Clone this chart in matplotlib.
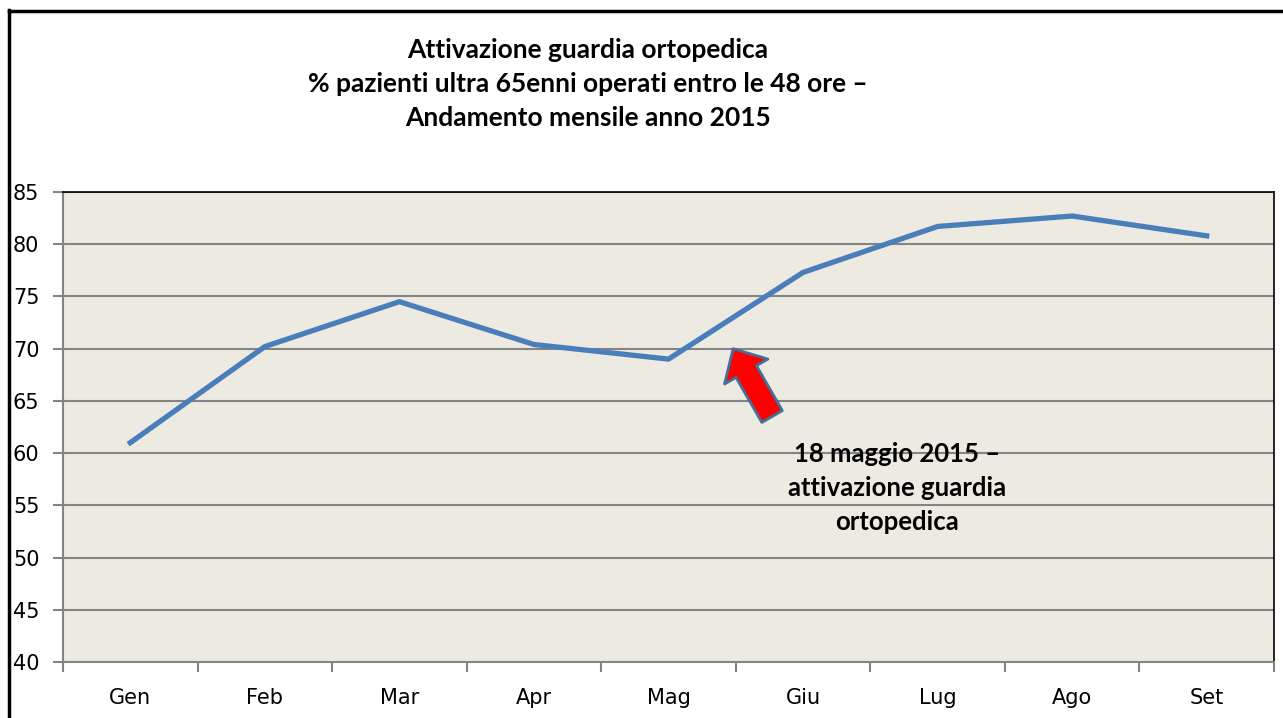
import matplotlib.pyplot as plt
from matplotlib.patches import FancyArrowPatch
from matplotlib.lines import Line2D
import numpy as np

mesi = ['Gen', 'Feb', 'Mar', 'Apr', 'Mag', 'Giu', 'Lug', 'Ago', 'Set']
percentuali = [61.0, 70.2, 74.5, 70.4, 69.0, 77.3, 81.7, 82.7, 80.8]
yticks = [40, 45, 50, 55, 60, 65, 70, 75, 80, 85]

titolo = ('Attivazione guardia ortopedica\n'
          '% pazienti ultra 65enni operati entro le 48 ore \u2013\n'
          'Andamento mensile anno 2015')
nota = '18 maggio 2015 \u2013\nattivazione guardia\nortopedica'

fig = plt.figure(figsize=(12.83, 7.18), dpi=100)
ax = fig.add_axes([63/1283, 1-662/718, (1274-63)/1283, (662-192)/718])

x = np.arange(len(mesi))
ax.set_facecolor('#EDEBE1')
ax.set_xlim(-0.5, len(mesi)-0.5)
ax.set_ylim(40, 85)
ax.set_yticks(yticks)
ax.yaxis.grid(True, color='#848484', lw=1.5)
ax.set_axisbelow(True)

ax.plot(x, percentuali, color='#4A7EBB', lw=3.8, solid_joinstyle='round', zorder=3)

# category ticks between months, labels centred
ax.set_xticks(x)
ax.set_xticklabels(mesi)
ax.set_xticks(np.arange(-0.5, len(mesi)), minor=True)
ax.tick_params(axis='x', which='major', length=0, pad=19, labelsize=15)
ax.tick_params(axis='x', which='minor', length=7, width=1.5, color='#848484')
ax.tick_params(axis='y', length=7, width=1.5, color='#848484', pad=10, labelsize=15)

for s in ['left', 'bottom']:
    ax.spines[s].set_color('#848484')
    ax.spines[s].set_linewidth(1.5)
for s in ['top', 'right']:
    ax.spines[s].set_color('black')
    ax.spines[s].set_linewidth(1.2)

fig.text(588/1283, 1-84/718, titolo, ha='center', va='center', fontsize=19,
         fontweight='bold', family='Lato', linespacing=1.52)

# freccia 18 maggio
freccia = FancyArrowPatch((4.77, 63.5), (4.48, 70.0),
                          arrowstyle='simple,head_length=19,head_width=36,tail_width=17',
                          mutation_scale=1, shrinkA=0, shrinkB=0,
                          fc='#FF0000', ec='#41719C', lw=2, zorder=4)
ax.add_patch(freccia)
ax.text(5.70, 56.7, nota, ha='center', va='center', fontsize=18.5, family='Lato',
        fontweight='bold', linespacing=1.5)

# cornice esterna
fig.add_artist(Line2D([9/1283, 9/1283], [-0.1, 1-10/718], transform=fig.transFigure,
                      color='black', lw=2.5))
fig.add_artist(Line2D([9/1283, 1.1], [1-11/718, 1-11/718], transform=fig.transFigure,
                      color='black', lw=2.5))

fig.savefig('out.png', dpi=100)
